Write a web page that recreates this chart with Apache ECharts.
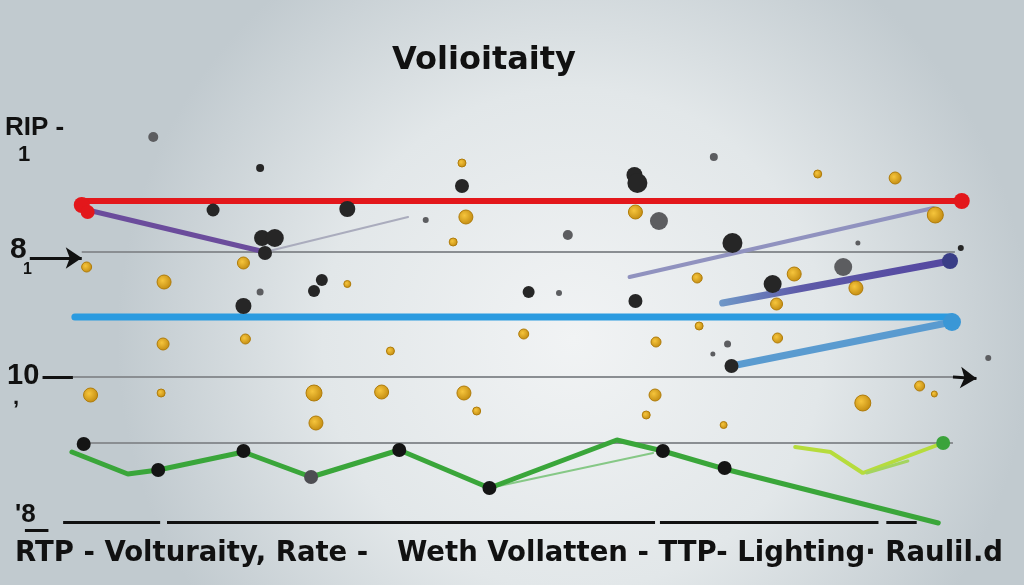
<!DOCTYPE html>
<html><head><meta charset="utf-8">
<script src="https://cdn.jsdelivr.net/npm/echarts@6/dist/echarts.min.js"></script>
<style>html,body{margin:0;padding:0;overflow:hidden}#c{width:1024px;height:585px}</style>
</head><body><div id="c"></div>
<script>
// ---- data ----
const titleText = 'Volioitaity';
const footerText = 'RTP - Volturaity, Rate -   Weth Vollatten - TTP- Lighting\u00b7 Raulil.d';
const yTickValues = [99.25, 92.5, 68.75, 63.75, 37.25, 31.75, 2.5];
const yTickLabels = ['RIP -', '1', '8', '1', '10', ',', "'8"];

const redLine = [[6.1, 81], [96.1, 81]];
const purpleLine = [[6.9, 78.75], [25, 68.25]];
const paleLine = [[25, 68.25], [39.6, 77]];
const lavenderLine = [[62.2, 62], [93.2, 79.25]];
const indigoLine = [[71.7, 55.5], [94.9, 66]];
const blueLine = [[5.6, 52], [95.1, 52]];
const blueDiag = [[72.6, 39.75], [95.1, 50.75]];
const greenLine = [[5.3, 18.25], [11, 12.75], [14.1, 13.75], [22.8, 18.25], [29.7, 12], [38.7, 18.75], [47.9, 9.25], [60.9, 21.25], [65.6, 18.5], [71.9, 14], [93.7, 0.5]];
const greenThin = [[47.9, 9.25], [64.6, 18]];
const limeLine = [[79.1, 19.5], [82.7, 18.25], [86, 13], [93.9, 20.25]];
const limeBranch = [[86.4, 13], [90.6, 16]];
const grayLevels = [
  [[6.3, 68.25], [95.4, 68.25]],
  [[5.4, 37], [95.2, 37]],
  [[6.6, 20.5], [95.2, 20.5]]
];
const baseSegments = [[[4.4, 0.75], [14.3, 0.75]], [[15, 0.75], [64.8, 0.75]], [[65.3, 0.75], [87.6, 0.75]], [[88.4, 0.75], [91.5, 0.75]]];
const arrowSegments = [[[1.0, 66.75], [6.3, 66.75]], [[95.2, 37], [97.6, 36.6]]];
const dashSegments = [[[2.3, 37], [5.4, 37]], [[0.5, -1.25], [2.9, -1.25]]];

const redEnds = [[6.3, 80, 16], [6.9, 78.25, 14], [96.1, 81, 16]];
const indigoEnds = [[94.9, 66, 16]];
const blueEnds = [[95.1, 50.75, 18]];
const greenEnds = [[94.2, 20.5, 14]];
const greenNodes = [[6.5, 20.25, 14], [14.1, 13.75, 14], [22.8, 18.5, 14], [38.7, 18.75, 14], [47.9, 9.25, 14], [65.6, 18.5, 14], [71.9, 14.25, 14]];
const greenNodesGray = [[29.7, 12, 14]];

const coins = [[45.1, 90.5, 8], [45.5, 77, 14], [44.2, 70.75, 8], [6.8, 64.5, 10], [22.8, 65.5, 12], [14.7, 60.75, 14], [33.4, 60.25, 7], [81.4, 87.75, 8], [89.3, 86.75, 12], [62.8, 78.25, 14], [79, 62.75, 14], [69.1, 61.75, 10], [85.3, 59.25, 14], [77.2, 55.25, 12], [93.4, 77.5, 16], [69.3, 49.75, 8], [77.3, 46.75, 10], [64.9, 45.75, 10], [14.6, 45.25, 12], [23, 46.5, 10], [37.8, 43.5, 8], [51.4, 47.75, 10], [7.2, 32.5, 14], [14.4, 33, 8], [30, 33, 16], [36.9, 33.25, 14], [45.3, 33, 14], [46.6, 28.5, 8], [30.2, 25.5, 14], [64.8, 32.5, 12], [63.9, 27.5, 8], [71.8, 25, 7], [86, 30.5, 16], [91.8, 34.75, 10], [93.3, 32.75, 6]];
const darkDots = [[24.5, 89.25, 8], [45.1, 84.75, 14], [19.7, 78.75, 13], [33.4, 79, 16], [24.7, 71.75, 16], [26, 71.75, 18], [25, 68, 14], [30.8, 61.25, 12], [30, 58.5, 12], [51.9, 58.25, 12], [22.8, 54.75, 16], [62.7, 87.5, 16], [63, 85.5, 20], [72.7, 70.5, 20], [76.8, 60.25, 18], [62.8, 56, 14], [96, 69.25, 6], [72.6, 39.75, 14]];
const grayDots = [[13.6, 97, 10], [41.4, 76.25, 6], [24.5, 58.25, 7], [70.8, 92, 8], [65.2, 76, 18], [55.9, 72.5, 10], [85.5, 70.5, 5], [84, 64.5, 18], [55, 58, 6], [72.2, 45.25, 7], [70.7, 42.75, 5], [98.8, 41.75, 6]];

// ---- chart ----
const chart = echarts.init(document.getElementById('c'));
function lineS(data, color, width, z) {
  return { type: 'line', data: data, showSymbol: false, symbol: 'none', clip: false, silent: true,
    lineStyle: { color: color, width: width, cap: 'round' }, z: z || 2, animation: false };
}
function scat(data, color, z, border) {
  return { type: 'scatter', data: data, clip: false, silent: true, animation: false, z: z || 5,
    symbolSize: function (v) { return v[2]; },
    itemStyle: { color: color, borderColor: border || 'transparent', borderWidth: border ? 1 : 0, opacity: 1 } };
}
function segs(list, color, width, arrow, size) {
  return { type: 'lines', coordinateSystem: 'cartesian2d', polyline: false, silent: true, animation: false, z: 3, clip: false,
    symbol: arrow ? ['none', 'arrow'] : ['none', 'none'], symbolSize: size || 10,
    lineStyle: { color: color, width: width, opacity: 1, curveness: 0 },
    data: list.map(function (c) { return { coords: c }; }) };
}
const coinColor = { type: 'radial', x: 0.4, y: 0.4, r: 0.6, colorStops: [{ offset: 0, color: '#f6c53c' }, { offset: 1, color: '#c48d12' }] };
const indigoGrad = { type: 'linear', x: 0, y: 0, x2: 1, y2: 0, colorStops: [{ offset: 0, color: '#6f98c8' }, { offset: 0.35, color: '#5e5aa8' }, { offset: 1, color: '#5446a0' }] };

const option = {
  backgroundColor: { type: 'radial', x: 0.56, y: 0.58, r: 0.78, colorStops: [{ offset: 0, color: '#f1f3f4' }, { offset: 0.55, color: '#e2e7e9' }, { offset: 1, color: '#c1cacf' }] },
  title: [
    { text: titleText, left: 392, top: 45, padding: 0, textStyle: { fontFamily: 'DejaVu Sans', fontSize: 32, fontWeight: 'bold', color: '#111' } },
    { text: footerText, left: 15, top: 540, padding: 0, textStyle: { fontFamily: 'DejaVu Sans', fontSize: 27.5, fontWeight: 'bold', color: '#111' } }
  ],
  grid: { left: 20, right: 24, top: 125, bottom: 60, containLabel: false, outerBoundsMode: 'none' },
  xAxis: { type: 'value', min: 0, max: 100, show: false },
  yAxis: {
    type: 'value', min: 0, max: 100,
    axisLine: { show: false }, axisTick: { show: false }, splitLine: { show: false },
    axisLabel: {
      customValues: yTickValues, align: 'left', margin: 15, color: '#111', fontFamily: 'Liberation Sans', fontWeight: 'bold',
      formatter: function (v) {
        const i = yTickValues.indexOf(v);
        const keys = ['a', 'b', 'c', 'd', 'e', 'f', 'g'];
        return i < 0 ? '' : '{' + keys[i] + '|' + yTickLabels[i] + '}';
      },
      rich: {
        a: { fontSize: 26, fontWeight: 'bold', fontFamily: 'Liberation Sans', color: '#111' },
        b: { fontSize: 22, fontWeight: 'bold', fontFamily: 'Liberation Sans', color: '#111', padding: [0, 0, 0, 13] },
        c: { fontSize: 30, fontWeight: 'bold', fontFamily: 'Liberation Sans', color: '#111', padding: [0, 0, 0, 5] },
        d: { fontSize: 16, fontWeight: 'bold', fontFamily: 'Liberation Sans', color: '#111', padding: [0, 0, 0, 18] },
        e: { fontSize: 29, fontWeight: 'bold', fontFamily: 'Liberation Sans', color: '#111', padding: [0, 0, 0, 2] },
        f: { fontSize: 22, fontWeight: 'bold', fontFamily: 'Liberation Sans', color: '#111', padding: [0, 0, 0, 8] },
        g: { fontSize: 26, fontWeight: 'bold', fontFamily: 'Liberation Sans', color: '#111', padding: [0, 0, 0, 10] }
      }
    }
  },
  series: [
    segs(grayLevels, '#8a8e92', 2),
    segs(baseSegments, '#111', 3),
    segs(dashSegments, '#111', 3),
    segs(arrowSegments, '#111', 3, true, 16),
    lineS(redLine, '#e3171b', 6, 4),
    lineS(purpleLine, '#6b4c9c', 5, 4),
    lineS(paleLine, '#aaacbd', 2, 4),
    lineS(lavenderLine, '#9092bf', 4, 4),
    lineS(indigoLine, indigoGrad, 7, 4),
    lineS(blueLine, '#2b9be0', 7, 4),
    lineS(blueDiag, '#5a9bd0', 7, 4),
    lineS(greenThin, '#86c886', 2, 4),
    lineS(greenLine, '#3aa63a', 5, 4),
    lineS(limeLine, '#b6dc3c', 4, 4),
    lineS(limeBranch, '#a4d460', 3, 4),
    scat(redEnds, '#e3171b', 6),
    scat(indigoEnds, '#393d86', 6),
    scat(blueEnds, '#3a97d6', 6),
    scat(greenEnds, '#3ba33b', 6),
    scat(greenNodes, '#141414', 6),
    scat(greenNodesGray, '#4d4d52', 6),
    scat(grayDots, '#5c5d60', 7),
    scat(darkDots, '#262626', 7),
    scat(coins, coinColor, 8, '#b07c0a')
  ]
};
chart.setOption(option);
</script>
</body></html>
